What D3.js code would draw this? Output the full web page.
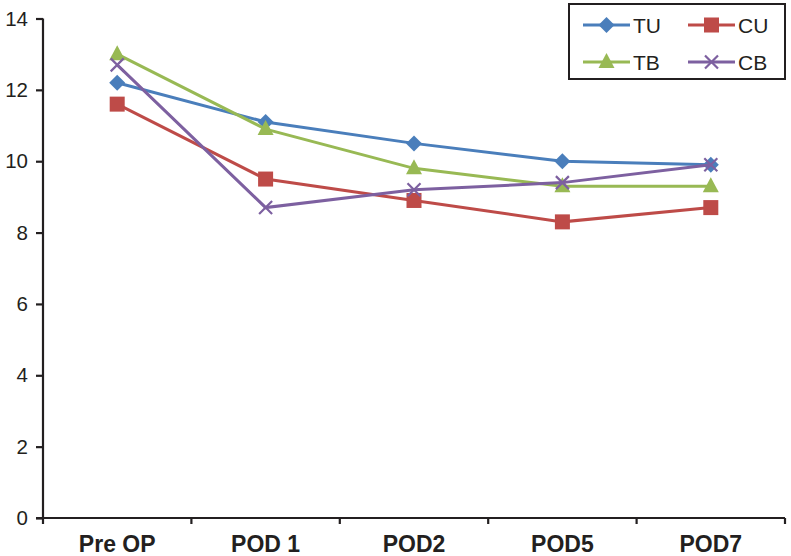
<!DOCTYPE html>
<html><head><meta charset="utf-8">
<script src="https://cdn.jsdelivr.net/npm/d3@7"></script>
<style>body{margin:0;background:#fff}svg{display:block}</style>
</head><body>
<svg id="c" width="791" height="556"></svg>
<script>
const categories = ["Pre OP", "POD 1", "POD2", "POD5", "POD7"];
const TU = [12.2, 11.1, 10.5, 10.0, 9.9];
const CU = [11.6, 9.5, 8.9, 8.3, 8.7];
const TB = [13.0, 10.9, 9.8, 9.3, 9.3];
const CB = [12.7, 8.7, 9.2, 9.4, 9.9];
const yTicks = [0, 2, 4, 6, 8, 10, 12, 14];
const seriesNames = ["TU", "CU", "TB", "CB"];

const series = [
  {name: "TU", values: TU, color: "#4a7ebb", marker: "diamond"},
  {name: "CU", values: CU, color: "#be4b48", marker: "square"},
  {name: "TB", values: TB, color: "#98b954", marker: "triangle"},
  {name: "CB", values: CB, color: "#7d60a0", marker: "x"}
];

const svg = d3.select("#c");
const mLeft = 43, mRight = 785, mTop = 18.5, mBottom = 518;
const x = d3.scaleBand().domain(categories).range([mLeft, mRight]);
const y = d3.scaleLinear().domain([0, 14]).range([mBottom, mTop]);

// axes
const yAxis = svg.append("g").attr("transform", `translate(${mLeft},0)`)
  .call(d3.axisLeft(y).tickValues(yTicks).tickSize(7).tickPadding(8).tickFormat(d3.format("d")));
yAxis.select(".domain").attr("stroke", "#231f20").attr("stroke-width", 2.2).attr("d", `M0,${mTop}V${mBottom}`);
yAxis.selectAll(".tick line").attr("stroke", "#231f20").attr("stroke-width", 2.2);
yAxis.selectAll(".tick text").attr("font-family", "Liberation Sans, Arial, sans-serif").attr("font-size", 20.5).attr("fill", "#231f20");

const xAxis = svg.append("g").attr("transform", `translate(0,${mBottom})`)
  .call(d3.axisBottom(x).tickSize(0).tickPadding(14));
xAxis.select(".domain").attr("stroke", "#231f20").attr("stroke-width", 2.2).attr("d", `M${mLeft-7},0H${mRight}`);
xAxis.selectAll(".tick text").attr("font-family", "'Liberation Sans Narrow', 'Arial Narrow', 'Liberation Sans', sans-serif")
  .attr("font-weight", "bold").attr("font-size", 23).attr("fill", "#231f20").attr("y", 34).attr("dy", 0);
// boundary ticks
const bounds = categories.map(c => x(c)).concat([x(categories[categories.length-1]) + x.bandwidth()]);
xAxis.selectAll(".btick").data(bounds).enter().append("line").attr("class", "btick")
  .attr("x1", d => d).attr("x2", d => d).attr("y1", 0).attr("y2", 6)
  .attr("stroke", "#231f20").attr("stroke-width", 2.2);

function drawMarker(g, type, color, cx, cy) {
  if (type === "diamond") {
    g.append("path").attr("d", `M${cx},${cy-8}L${cx+8},${cy}L${cx},${cy+8}L${cx-8},${cy}Z`).attr("fill", color);
  } else if (type === "square") {
    g.append("rect").attr("x", cx-7.5).attr("y", cy-7.5).attr("width", 15).attr("height", 15).attr("fill", color);
  } else if (type === "triangle") {
    g.append("path").attr("d", `M${cx},${cy-9}L${cx+8},${cy+6}L${cx-8},${cy+6}Z`).attr("fill", color);
  } else {
    g.append("path").attr("d", `M${cx-6.5},${cy-6.5}L${cx+6.5},${cy+6.5}M${cx+6.5},${cy-6.5}L${cx-6.5},${cy+6.5}`)
      .attr("stroke", color).attr("stroke-width", 2.2).attr("fill", "none");
  }
}

const line = d3.line().x((d, i) => x(categories[i]) + x.bandwidth()/2).y(d => y(d));
series.forEach(s => {
  const g = svg.append("g");
  g.append("path").attr("d", line(s.values)).attr("fill", "none").attr("stroke", s.color).attr("stroke-width", 3);
  s.values.forEach((v, i) => drawMarker(g, s.marker, s.color, x(categories[i]) + x.bandwidth()/2, y(v)));
});

// legend
const lg = svg.append("g");
lg.append("rect").attr("x", 569).attr("y", 4).attr("width", 216).attr("height", 75)
  .attr("fill", "#fff").attr("stroke", "#231f20").attr("stroke-width", 2);
const legendPos = [[583, 25], [688, 25], [583, 62], [688, 62]];
series.forEach((s, i) => {
  const [lx, ly] = legendPos[i];
  lg.append("line").attr("x1", lx).attr("x2", lx + 47).attr("y1", ly).attr("y2", ly).attr("stroke", s.color).attr("stroke-width", 3);
  drawMarker(lg, s.marker, s.color, lx + 23.5, ly);
  lg.append("text").attr("x", lx + 50).attr("y", ly).attr("dy", "0.36em")
    .attr("font-family", "Liberation Sans, Arial, sans-serif").attr("font-size", 21).attr("fill", "#231f20").text(seriesNames[i]);
});
</script>
</body></html>
